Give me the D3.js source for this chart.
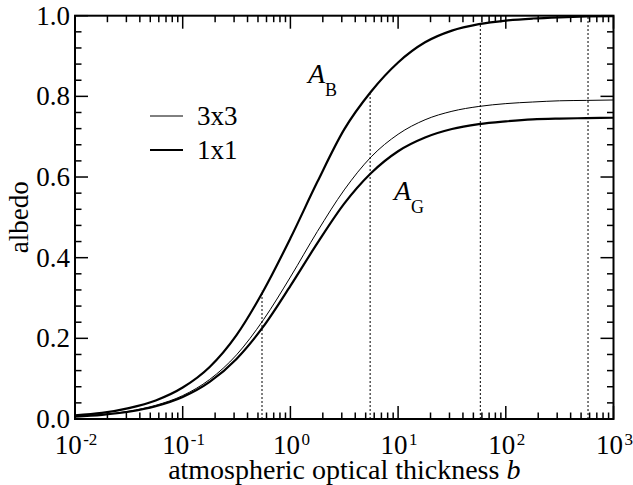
<!DOCTYPE html>
<html>
<head>
<meta charset="utf-8">
<script src="https://cdn.jsdelivr.net/npm/d3@7"></script>
<style>
  html, body { margin: 0; padding: 0; background: #fff; }
  svg { display: block; }
</style>
</head>
<body>
<svg id="chart" width="633" height="485"></svg>
<script>
// ---- data ----
const thickness = [0.01, 0.0178, 0.0316, 0.0562, 0.1, 0.178, 0.316, 0.562, 1, 1.78, 3.16, 5.62, 10, 17.8, 31.6, 56.2, 100, 178, 316, 562, 1000];
const albedoB   = [0.009, 0.015, 0.027, 0.046, 0.078, 0.129, 0.208, 0.318, 0.448, 0.588, 0.718, 0.812, 0.884, 0.934, 0.963, 0.979, 0.988, 0.993, 0.996, 0.998, 0.999];
const albedo3x3 = [0.008, 0.011, 0.0195, 0.034, 0.058, 0.098, 0.159, 0.246, 0.352, 0.465, 0.568, 0.65, 0.706, 0.742, 0.763, 0.775, 0.782, 0.786, 0.789, 0.790, 0.791];
const albedo1x1 = [0.006, 0.0103, 0.018, 0.0317, 0.0546, 0.092, 0.149, 0.2295, 0.33, 0.436, 0.534, 0.61, 0.664, 0.698, 0.719, 0.731, 0.738, 0.743, 0.745, 0.746, 0.747];
const dropB     = [0.545, 5.5, 58, 580];
const dropTop   = [0.318, 0.805, 0.979, 0.998];
const xTickExp  = [-2, -1, 0, 1, 2, 3];
const yTicks    = [0, 0.2, 0.4, 0.6, 0.8, 1.0];
const yMinor    = [0.04, 0.08, 0.12, 0.16, 0.24, 0.28, 0.32, 0.36, 0.44, 0.48, 0.52, 0.56, 0.64, 0.68, 0.72, 0.76, 0.84, 0.88, 0.92, 0.96];
const legendLabels = ["3x3", "1x1"];

// ---- layout ----
const L = 75, R = 613.5, T = 15.7, B = 419;
const FAM = "Liberation Serif";
const svg = d3.select("#chart");
const x = d3.scaleLog().domain([1e-2, 1e3]).range([L, R]);
const y = d3.scaleLinear().domain([0, 1]).range([B, T]);
const FONT = 27;

// minor x ticks: 2..9 of each decade
const xMinor = [];
xTickExp.slice(0, -1).forEach(e => { for (let k = 2; k <= 9; k++) xMinor.push(k * Math.pow(10, e)); });

// dotted verticals
svg.append("g").selectAll("line").data(dropB).join("line")
  .attr("x1", d => x(d)).attr("x2", d => x(d))
  .attr("y1", y(0)).attr("y2", (d, i) => y(dropTop[i]))
  .attr("stroke", "#000").attr("stroke-width", 1).attr("stroke-dasharray", "2,2");

// curves
const line = d3.line().x(d => x(d[0])).y(d => y(d[1])).curve(d3.curveMonotoneX);
const series = [
  { v: albedoB, w: 2.2 },
  { v: albedo3x3, w: 1 },
  { v: albedo1x1, w: 2.2 }
];
svg.append("g").selectAll("path").data(series).join("path")
  .attr("d", s => line(thickness.map((t, i) => [t, s.v[i]])))
  .attr("fill", "none").attr("stroke", "#000").attr("stroke-width", s => s.w);

// ticks (inward, mirrored)
const tk = svg.append("g").attr("stroke", "#000").attr("stroke-width", 1.5);
const majorLen = 13, minorLen = 6.5;
xTickExp.forEach(e => {
  const xx = x(Math.pow(10, e));
  tk.append("line").attr("x1", xx).attr("x2", xx).attr("y1", B).attr("y2", B - majorLen);
  tk.append("line").attr("x1", xx).attr("x2", xx).attr("y1", T).attr("y2", T + majorLen);
});
xMinor.forEach(v => {
  const xx = x(v);
  tk.append("line").attr("x1", xx).attr("x2", xx).attr("y1", B).attr("y2", B - minorLen);
  tk.append("line").attr("x1", xx).attr("x2", xx).attr("y1", T).attr("y2", T + minorLen);
});
yTicks.forEach(v => {
  const yy = y(v);
  tk.append("line").attr("x1", L).attr("x2", L + majorLen).attr("y1", yy).attr("y2", yy);
  tk.append("line").attr("x1", R).attr("x2", R - majorLen).attr("y1", yy).attr("y2", yy);
});
yMinor.forEach(v => {
  const yy = y(v);
  tk.append("line").attr("x1", L).attr("x2", L + minorLen).attr("y1", yy).attr("y2", yy);
  tk.append("line").attr("x1", R).attr("x2", R - minorLen).attr("y1", yy).attr("y2", yy);
});

// frame
svg.append("rect").attr("x", L).attr("y", T).attr("width", R - L).attr("height", B - T)
  .attr("fill", "none").attr("stroke", "#000").attr("stroke-width", 2);

// y tick labels
svg.append("g").selectAll("text").data(yTicks).join("text")
  .attr("font-family", FAM)
  .attr("x", L - 5).attr("y", d => y(d) + 9)
  .attr("text-anchor", "end").attr("font-size", FONT)
  .text(d => d.toFixed(1));

// x tick labels: base "10" and a separate superscript text, centred as a pair
xTickExp.forEach(e => {
  const g = svg.append("g");
  const base = g.append("text").attr("font-family", FAM).attr("font-size", FONT)
    .attr("x", 0).attr("y", 454).text("10");
  const bw = base.node().getComputedTextLength() + 1.5;
  const sup = g.append("text").attr("font-family", FAM).attr("font-size", 17)
    .attr("x", bw).attr("y", 445).text(e < 0 ? "-" + Math.abs(e) : String(e));
  const sw = sup.node().getComputedTextLength();
  g.attr("transform", `translate(${x(Math.pow(10, e)) + 1 - (bw + sw) / 2},0)`);
});

// axis titles
const xt = svg.append("text").attr("font-family", FAM).attr("x", (L + R) / 2).attr("y", 479)
  .attr("text-anchor", "middle").attr("font-size", 28);
xt.append("tspan").text("atmospheric optical thickness ");
xt.append("tspan").attr("font-style", "italic").text("b");

svg.append("text").attr("font-family", FAM).attr("transform", `translate(28,${(T + B) / 2}) rotate(-90)`)
  .attr("text-anchor", "middle").attr("font-size", FONT).text("albedo");

// legend
const lg = svg.append("g");
legendLabels.forEach((lab, i) => {
  const yy = 116 + i * 34;
  lg.append("line").attr("x1", 150).attr("x2", 183).attr("y1", yy).attr("y2", yy)
    .attr("stroke", "#000").attr("stroke-width", i === 0 ? 1 : 2.2);
  lg.append("text").attr("font-family", FAM).attr("x", 197).attr("y", yy + 9).attr("font-size", FONT).text(lab);
});

// curve labels
function subLabel(px, py, sub) {
  const t = svg.append("text").attr("font-family", FAM).attr("x", px).attr("y", py).attr("font-size", 28);
  t.append("tspan").attr("font-style", "italic").text("A");
  t.append("tspan").attr("font-size", 18).attr("dy", 13).text(sub);
}
subLabel(308, 83, "B");
subLabel(394, 200, "G");
</script>
</body>
</html>
